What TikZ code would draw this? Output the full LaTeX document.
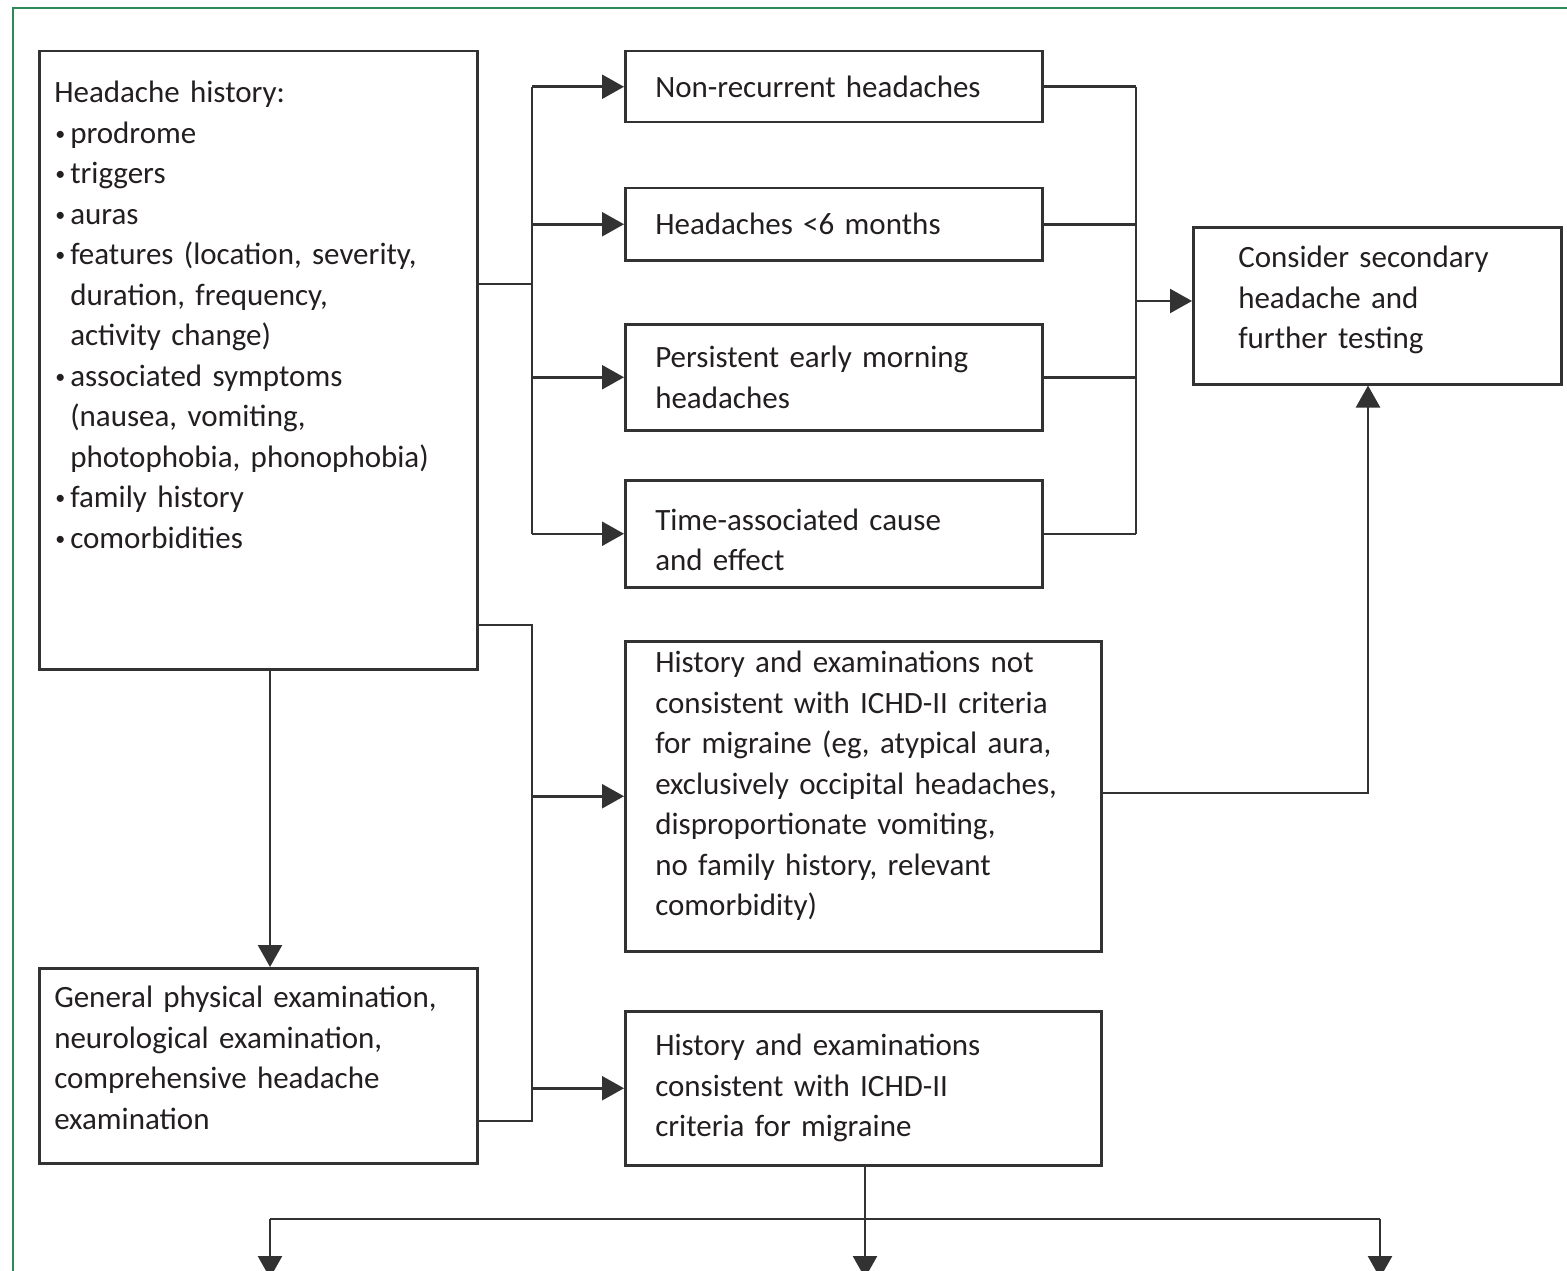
\documentclass[tikz,border=0pt]{standalone}
\usepackage{fontspec}
\setmainfont[WordSpace=0.7]{Carlito}
\usetikzlibrary{arrows.meta,calc}
\definecolor{framegreen}{RGB}{46,139,87}
\definecolor{inkgray}{RGB}{50,50,50}
\definecolor{inktext}{RGB}{35,31,32}
\newcommand{\hitem}[1]{\par\hangindent=16pt\hangafter=1\noindent
    \makebox[16pt][l]{\hspace{1pt}\raisebox{3pt}{\fontsize{20}{20}\selectfont\textbullet}}#1}

\begin{document}
\begin{tikzpicture}[x=1pt, y=-1pt, line width=2.5pt, draw=inkgray,
    box/.style={draw=inkgray, anchor=north west, align=left, inner ysep=0pt,
        text=inktext, font=\fontsize{31}{40.5}\selectfont},
    arr/.style={-{Triangle[length=22pt, width=24pt]}}]
        \clip (0,0) rectangle (1567,1271);
        \draw [framegreen, line width=2pt] (1590,8) -- (13,8) -- (13,1290);

        % boxes
        \node [box, text width=408pt, inner xsep=15pt, minimum height=618pt] (hist) at (38,50)
            {\parbox[c][618pt][t]{408pt}{\raggedright\vspace*{30pt}Headache history:
            \hitem{prodrome}
            \hitem{triggers}
            \hitem{auras}
            \hitem{features (location, severity,\newline duration, frequency,\newline activity change)}
            \hitem{associated symptoms\newline (nausea, vomiting,\newline photophobia, phonophobia)}
            \hitem{family history}
            \hitem{comorbidities}}};
        \node [box, text width=357pt, inner xsep=30pt, minimum height=71pt] (nonrec) at (624,50)
            {Non-recurrent headaches};
        \node [box, text width=357pt, inner xsep=30pt, minimum height=72pt] (short) at (624,187)
            {Headaches <6 months};
        \node [box, text width=357pt, inner xsep=30pt, minimum height=106pt] (morning) at (624,323)
            {Persistent early morning\\ headaches};
        \node [box, text width=357pt, inner xsep=30pt, minimum height=107pt] (timecause) at (624,479)
            {\rule{0pt}{34pt}Time-associated cause\\ and effect};
        \node [box, text width=278pt, inner xsep=45pt, minimum height=157pt] (secondary) at (1192,226)
            {Consider secondary\\ headache and\\ further testing\rule[-17pt]{0pt}{0pt}};
        \node [box, text width=416pt, inner xsep=30pt, minimum height=310pt] (notcons) at (624,640)
            {History and examinations not\\ consistent with ICHD-II criteria\\
             for migraine (eg, atypical aura,\\ exclusively occipital headaches,\\
             disproportionate vomiting,\\ no family history, relevant\\ comorbidity)\rule[-26pt]{0pt}{0pt}};
        \node [box, text width=408pt, inner xsep=15pt, minimum height=195pt] (exam) at (38,967)
            {General physical examination,\\ neurological examination,\\
             comprehensive headache\\ examination\rule[-16pt]{0pt}{0pt}};
        \node [box, text width=416pt, inner xsep=30pt, minimum height=154pt] (consist) at (624,1010)
            {History and examinations\\ consistent with ICHD-II\\ criteria for migraine};

        % bus points
        \coordinate (busL) at (532,284);
        \coordinate (busR) at (1136,301);
        \coordinate (busM) at (532,625);
        \coordinate (busE) at (532,1121);
        \coordinate (upC) at (1368,793);
        \coordinate (busB) at (865,1219);
        \coordinate (outA) at (270,1278);
        \coordinate (outB) at (865,1278);
        \coordinate (outC) at (1380,1278);

        % connectors
        \draw (hist.east |- busL) -- (busL);
        \draw (busL |- nonrec) -- (busL |- timecause);
        \foreach \n in {nonrec,short,morning,timecause}
            \draw [arr] (busL |- \n) -- (\n);
        \foreach \n in {nonrec,short,morning,timecause}
            \draw (\n.east) -- (busR |- \n);
        \draw (busR |- nonrec) -- (busR |- timecause);
        \draw [arr] (busR) -- (secondary.west |- busR);

        \draw (hist.east |- busM) -- (busM) -- (busE) -- (exam.east |- busE);
        \draw [arr] (busM |- notcons) -- (notcons);
        \draw [arr] (busM |- consist) -- (consist);
        \draw [arr] (hist.south -| outA) -- (exam.north -| outA);
        \draw [arr] (notcons.east |- upC) -- (upC) -- (secondary.south -| upC);

        \draw (consist.south -| busB) -- (busB);
        \draw (outA |- busB) -- (outC |- busB);
        \foreach \c in {outA,outB,outC}
            \draw [arr] (\c |- busB) -- (\c);
    \end{tikzpicture}
\end{document}
